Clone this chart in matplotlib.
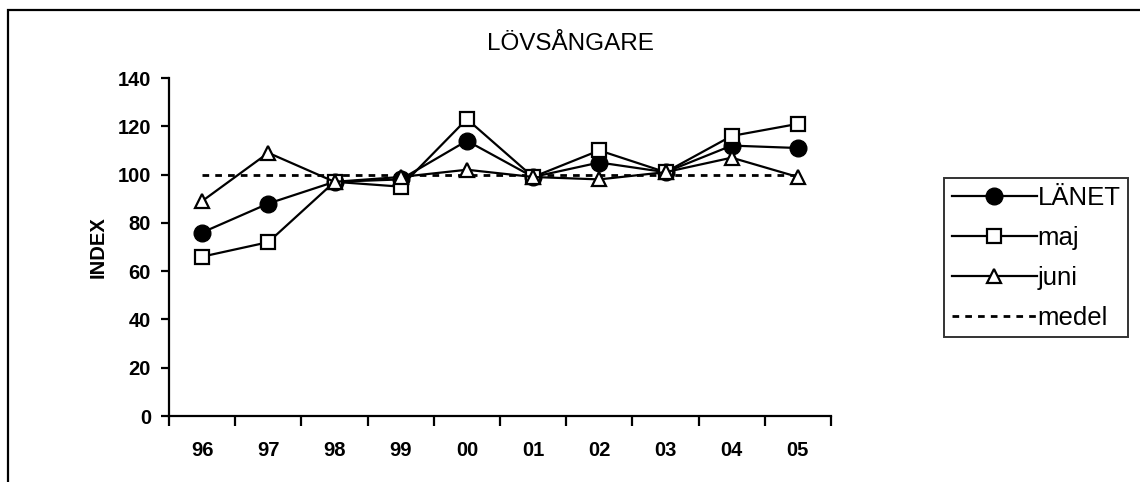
import matplotlib
matplotlib.use("Agg")
import matplotlib.pyplot as plt
from matplotlib.patches import Rectangle

plt.rcParams['font.family'] = ['Liberation Sans', 'DejaVu Sans']

years = ['96', '97', '98', '99', '00', '01', '02', '03', '04', '05']
lanet = [76, 88, 97, 98, 114, 99, 105, 101, 112, 111]
maj = [66, 72, 97, 95, 123, 99, 110, 101, 116, 121]
juni = [89, 109, 97, 99, 102, 99, 98, 101, 107, 99]
medel = [100] * len(years)

W, H = 1140, 482
fig = plt.figure(figsize=(W / 100, H / 100), dpi=100)
# outer chart frame (only left and top edges visible in the picture)
fig.patches.append(Rectangle((8 / W, -0.1), 1.2, 1.1 - 9.5 / H,
                             transform=fig.transFigure, fill=False,
                             edgecolor='black', linewidth=1.6))

ax = fig.add_axes([169 / W, 1 - 416 / H, (831 - 169) / W, (416 - 78) / H])
x = list(range(len(years)))

ax.plot(x, medel, color='black', lw=2, linestyle=(0, (2.4, 2.2)), label='medel', zorder=2)
ax.plot(x, lanet, color='black', lw=1.6, marker='o', ms=12, mfc='black',
        mec='black', label='LÄNET', zorder=3)
ax.plot(x, maj, color='black', lw=1.6, marker='s', ms=9.5, mfc='white',
        mec='black', mew=1.6, label='maj', zorder=4)
ax.plot(x, juni, color='black', lw=1.6, marker='^', ms=10.5, mfc='white',
        mec='black', mew=1.6, label='juni', zorder=5)

ax.set_xlim(-0.5, len(years) - 0.5)
ax.set_ylim(0, 140)
ax.set_yticks(range(0, 141, 20))
ax.set_xticks([i - 0.5 for i in range(len(years) + 1)])
ax.set_xticklabels([])
ax.set_xticks(x, minor=True)
ax.set_xticklabels(years, minor=True)
ax.tick_params(axis='x', which='major', direction='out', length=7, width=1.6)
ax.tick_params(axis='x', which='minor', length=0, pad=18, labelsize=14.5)
ax.tick_params(axis='y', direction='out', length=6, width=1.6, labelsize=14.5, pad=7)
for lbl in ax.get_xticklabels(minor=True) + ax.get_yticklabels():
    lbl.set_fontweight('bold')

for side in ['top', 'right']:
    ax.spines[side].set_visible(False)
for side in ['left', 'bottom']:
    ax.spines[side].set_linewidth(1.6)

ax.set_ylabel('INDEX', fontsize=14.5, fontweight='bold', labelpad=7)
fig.text(570 / W, 1 - 50 / H, 'LÖVSÅNGARE', fontsize=17.5, ha='center', va='baseline')

h, l = ax.get_legend_handles_labels()
order = [1, 2, 3, 0]
leg = fig.legend([h[i] for i in order], [l[i] for i in order],
                 loc='upper left', bbox_to_anchor=(944 / W, 1 - 178 / H),
                 fontsize=18.5, frameon=True, fancybox=False, handlelength=3.3,
                 handletextpad=0.05, borderpad=0.3, labelspacing=0.62,
                 borderaxespad=0, markerscale=1.0)
leg.get_frame().set_edgecolor('black')
leg.get_frame().set_linewidth(1.4)

fig.savefig('out.png', dpi=100)
